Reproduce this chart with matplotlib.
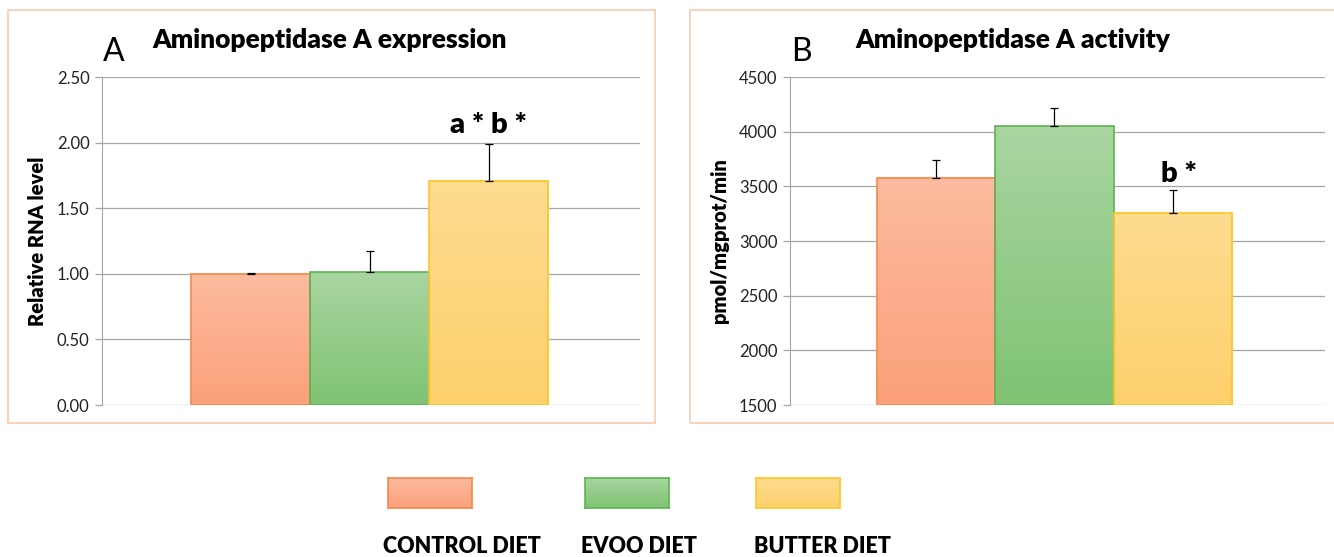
import numpy as np
import matplotlib
matplotlib.use('Agg')
import matplotlib.pyplot as plt
from matplotlib.colors import LinearSegmentedColormap
from matplotlib.patches import Rectangle

plt.rcParams['font.family'] = ['Lato', 'DejaVu Sans']

# data
groups = ['CONTROL DIET', 'EVOO DIET', 'BUTTER DIET']
expr_vals = [1.00, 1.01, 1.71]
expr_err = [0.005, 0.16, 0.28]
act_vals = [3580, 4050, 3260]
act_err = [160, 170, 210]

expr_ticks = [0.0, 0.5, 1.0, 1.5, 2.0, 2.5]
act_ticks = [1500, 2000, 2500, 3000, 3500, 4000, 4500]

# colours: (top, bottom, edge)
colours = [('#FDBB9F', '#FBA07A', '#F5894A'),
           ('#A9D5A1', '#7FC373', '#5DB352'),
           ('#FEDC90', '#FDD06C', '#FFC629')]


def grad_bars(ax, vals, errs, base):
    for i, (v, (top, bot, edge)) in enumerate(zip(vals, colours)):
        cmap = LinearSegmentedColormap.from_list('g', [bot, top])
        grad = np.linspace(0, 1, 100).reshape(-1, 1)
        ax.imshow(grad, cmap=cmap, extent=[i - 0.5, i + 0.5, base, v],
                  origin='lower', aspect='auto', zorder=2)
        ax.add_patch(Rectangle((i - 0.5, base), 1, v - base, fill=False,
                               edgecolor=edge, lw=1.2, zorder=3))
    ax.errorbar(range(len(vals)), vals, yerr=[[0] * len(vals), errs],
                fmt='none', ecolor='black', elinewidth=0.9, capsize=3,
                capthick=0.9, zorder=4)


def style(ax, ticks, xlim, ylabel, fmt):
    ax.set_xlim(*xlim)
    ax.set_ylim(ticks[0], ticks[-1])
    ax.set_yticks(ticks)
    ax.set_yticklabels([fmt.format(t) for t in ticks], fontsize=12, color='#222222')
    ax.set_xticks([])
    for t in ticks:
        ax.axhline(t, color='#A6A6A6', lw=0.9, zorder=1)
    for s in ['top', 'right', 'bottom']:
        ax.spines[s].set_visible(False)
    ax.spines['left'].set_color('#A6A6A6')
    ax.tick_params(axis='y', color='#A6A6A6', length=5, width=0.9, pad=4)
    ax.set_ylabel(ylabel, fontsize=14.5, fontweight='heavy', labelpad=7)


fig = plt.figure(figsize=(13.34, 5.57), dpi=100)

# panel frames
for x0, x1 in [(8, 655), (690, 1340)]:
    fig.add_artist(Rectangle((x0 / 1334, 1 - 423 / 557), (x1 - x0) / 1334, 413 / 557,
                             transform=fig.transFigure, fill=False,
                             edgecolor='#F8CBAD', lw=1.2))

axA = fig.add_axes([102 / 1334, 1 - 405 / 557, 538 / 1334, 328 / 557])
grad_bars(axA, expr_vals, expr_err, 0)
style(axA, expr_ticks, (-1.248, 3.273), 'Relative RNA level', '{:.2f}')
axA.text(2, 2.07, 'a * b *', ha='center', va='baseline', fontsize=21, fontweight='heavy')

axB = fig.add_axes([790 / 1334, 1 - 405 / 557, 535 / 1334, 328 / 557])
grad_bars(axB, act_vals, act_err, 1500)
style(axB, act_ticks, (-1.235, 3.286), 'pmol/mgprot/min', '{:d}')
axB.text(2.05, 3540, 'b *', ha='center', va='baseline', fontsize=21, fontweight='heavy')

# panel titles
fig.text(103 / 1334, 1 - 61 / 557, 'A', fontsize=23, va='baseline', ha='left')
fig.text(330 / 1334, 1 - 48 / 557, 'Aminopeptidase A expression', fontsize=19,
         fontweight='heavy', va='baseline', ha='center')
fig.text(791 / 1334, 1 - 61 / 557, 'B', fontsize=23, va='baseline', ha='left')
fig.text(1013 / 1334, 1 - 48 / 557, 'Aminopeptidase A activity', fontsize=19,
         fontweight='heavy', va='baseline', ha='center')

# legend
leg_x = [388, 585, 756]
lab_x = [462, 639, 823]
for (top, bot, edge), x, lx, g in zip(colours, leg_x, lab_x, groups):
    lax = fig.add_axes([x / 1334, 1 - 508 / 557, 84 / 1334, 30 / 557])
    cmap = LinearSegmentedColormap.from_list('g', [bot, top])
    lax.imshow(np.linspace(0, 1, 50).reshape(-1, 1), cmap=cmap,
               origin='lower', aspect='auto', extent=[0, 1, 0, 1])
    lax.set_xticks([])
    lax.set_yticks([])
    for s in lax.spines.values():
        s.set_color(edge)
        s.set_linewidth(1.2)
    fig.text(lx / 1334, 1 - 553 / 557, g, fontsize=15.5, fontweight='heavy',
             ha='center', va='baseline')

fig.savefig('out.png', dpi=100)
